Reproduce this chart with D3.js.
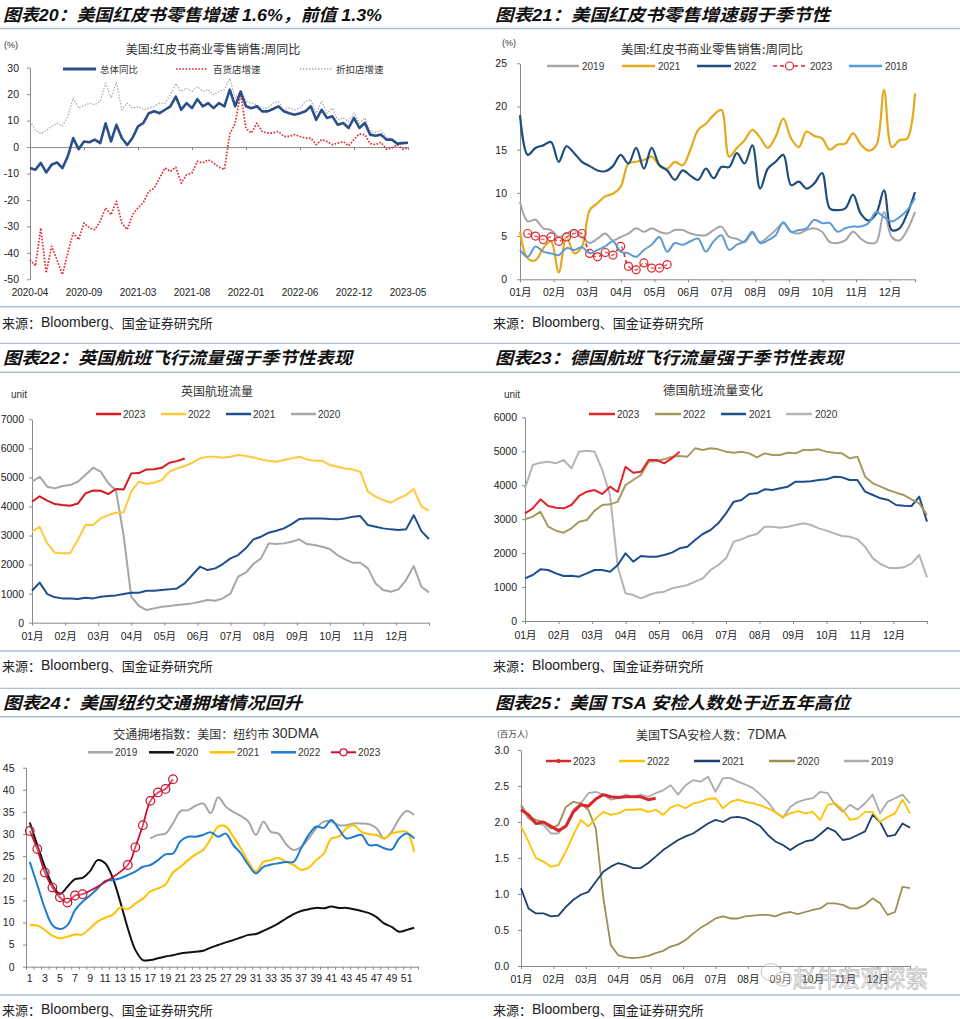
<!DOCTYPE html>
<html><head><meta charset="utf-8">
<script src="https://cdn.jsdelivr.net/npm/d3@7"></script>
<style>
body{margin:0;background:#fff;}
svg{display:block;}
</style></head><body>
<svg id="c" width="960" height="1019"></svg>
<script>
// ================= DATA =================
const months = ['01月','02月','03月','04月','05月','06月','07月','08月','09月','10月','11月','12月'];

// Panel 1 (图表20) - sampled roughly every 2.3 weeks
const p1Ticks = ['2020-04','2020-09','2021-03','2021-08','2022-01','2022-06','2022-12','2023-05'];
const p1YTicks = [-50,-40,-30,-20,-10,0,10,20,30];
const p1Total = [-7.9,-8.6,-6,-9.6,-6.7,-5.8,-8,-3.5,3.4,-0.8,2.1,1.8,2.8,1.5,9,2.1,8.4,3.4,0.8,3.5,7.8,9.1,12.8,13.5,12.8,14.1,15.4,19.1,14.1,16.6,14.7,18.1,15.4,16.6,14.7,16.6,15.4,21.7,15.4,21,15.4,14.7,15.4,13.5,13.5,14.4,15.4,13.5,12.8,12.2,12.8,13.5,15.4,10.3,14.1,11,11.6,8.4,9.1,7.2,11,7.2,9.1,4.7,4.3,4.7,2.8,2.8,1.3,1.5,1.6];
const p1Dept = [-42.6,-45,-30.6,-47.6,-37.5,-42.6,-48.2,-40,-32.5,-35,-28.7,-30.6,-31.2,-28,-23,-25.6,-20.5,-28.7,-31.2,-25.6,-23,-21,-16.8,-15.5,-11.7,-7.9,-9.2,-7.6,-13.6,-10.5,-9.8,-5.4,-6,-4.8,-6,-7.6,-8.5,5,9,20.4,7,5.3,9,5.9,5.3,5.3,5.9,4,4,4.7,4,3.4,3.4,0.9,2.8,2.1,0.9,1.5,2.1,0.5,2.8,5,4.7,1.3,0.9,1.8,-0.8,-0.4,0.9,-0.8,-0.4];
const p1Disc = [9.7,6.5,5,6.3,7.8,9,8,11.6,18.5,14.7,15.6,16.6,16,17.3,24.2,18.5,24.4,14.1,16.6,14.7,15.4,14.1,14.7,15.4,16.6,16.6,19.8,23.9,21,22.3,21,22.9,21,21.7,19.8,21,21.7,26,18.5,21,17.3,16.6,16,14.7,14.7,16.6,17.3,14.1,14.7,14.1,14.7,17.3,17.9,12.8,17.3,12.8,14.7,10.3,11,9.7,12.8,9,11,5.9,5.5,6.3,3.8,3,1.5,1.8,1.5];

// Panel 2 (图表21) - weekly
const p2Y2019 = [9.0,6.7,6.9,5.9,5.7,4.9,5.3,5.7,4.9,4.2,4.7,5.3,4.5,4.9,5.3,5.9,5.5,5.9,5.5,5.3,5.7,5.7,5.3,5.1,5.1,5.7,6.1,4.9,4.7,4.3,5.3,4.3,4.9,5.7,6.5,5.5,5.3,5.7,5.9,5.5,4.3,4.2,4.5,5.5,4.7,4.2,4.3,7.8,4.9,4.5,5.7,7.8];
const p2Y2021 = [5.5,2.4,2.2,3.6,4.4,0.8,4.9,3.0,3.8,8.0,8.8,9.6,9.9,10.7,13.4,13.6,13.8,14.2,13.2,12.8,13.6,13.2,15.0,17.3,18.0,19.0,19.6,14.2,15.2,16.1,17.3,16.4,15.2,16.5,18.6,16.3,15.3,17.1,16.6,16.3,15.0,15.6,15.7,16.9,15.6,14.9,15.5,21.9,15.3,16.1,16.3,21.5];
const p2Y2022 = [19.0,14.4,15.2,15.5,15.9,13.6,15.4,14.6,13.6,13.1,12.6,12.5,13.1,14.4,13.4,15.2,12.8,15.2,13.2,12.6,11.5,12.6,12.0,11.5,12.8,11.7,13.0,13.0,14.6,13.4,15.5,10.5,12.8,13.6,14.4,10.9,11.3,10.5,11.1,12.3,8.2,8.0,8.2,9.8,7.6,6.8,7.6,10.3,5.7,5.9,7.6,10.1];
const p2Y2023 = [null,5.3,5.0,4.6,4.9,4.4,4.9,5.3,5.3,3.0,2.6,3.1,2.8,3.8,1.5,1.1,1.9,1.3,1.3,1.7];
const p2Y2018 = [3.4,2.6,3.8,3.2,3.0,2.8,3.6,3.4,3.7,3.0,3.4,3.8,4.4,3.2,3.0,2.6,3.4,4.0,4.9,3.2,4.2,4.0,4.4,4.7,3.2,4.4,5.1,3.4,4.0,4.4,5.5,4.2,4.5,5.1,6.6,5.5,5.7,5.9,6.9,6.5,6.5,5.5,5.9,6.1,6.1,6.5,7.8,7.2,6.7,7.2,8.0,9.4];

// Panel 3 (图表22) - UK flights, weekly
const p3Y2023 = [4164,4350,4200,4083,4049,4026,4100,4450,4550,4542,4427,4600,4580,5139,5150,5276,5280,5330,5506,5560,5650];
const p3Y2022 = [3131,3300,2730,2409,2386,2386,2845,3360,3360,3590,3705,3785,3797,4508,4852,4772,4817,4909,5196,5310,5391,5506,5655,5712,5712,5678,5712,5770,5735,5689,5620,5574,5540,5597,5655,5712,5620,5574,5574,5425,5368,5310,5276,5196,4508,4336,4221,4129,4278,4393,4600,4000,3850];
const p3Y2021 = [1101,1380,986,872,837,837,814,860,837,895,918,940,986,1032,1032,1101,1101,1124,1147,1181,1353,1640,1927,1812,1870,2019,2214,2328,2558,2868,2959,3097,3166,3246,3395,3567,3590,3590,3590,3567,3556,3590,3647,3670,3360,3303,3246,3212,3189,3212,3700,3150,2880];
const p3Y2020 = [4852,5024,4680,4622,4703,4737,4852,5081,5333,5196,4800,4550,3000,900,580,436,493,551,574,608,631,665,723,780,757,837,1009,1583,1720,2019,2214,2730,2707,2730,2787,2868,2707,2672,2615,2535,2328,2179,2065,2065,1870,1353,1124,1067,1147,1468,1950,1239,1044];

// Panel 4 (图表23) - Germany flights, weekly
const p4Y2023 = [3171,3318,3584,3387,3338,3318,3417,3682,3809,3858,3741,3957,3800,4545,4369,4398,4742,4742,4644,4791,4988];
const p4Y2022 = [2995,3073,3220,2779,2661,2602,2729,2926,2975,3250,3417,3436,3515,4005,4153,4300,4693,4713,4762,4840,4860,4840,5086,5037,5086,5056,4988,4958,4988,4938,4821,4938,4889,4889,4958,4938,5037,5037,5056,4988,4958,4938,4791,4840,4251,4055,3957,3858,3780,3711,3584,3466,3122];
const p4Y2021 = [1257,1355,1522,1502,1404,1325,1335,1306,1404,1502,1502,1453,1649,1993,1748,1915,1895,1895,1944,2013,2140,2189,2386,2563,2680,2877,3171,3515,3564,3741,3760,3878,3858,3908,3957,4104,4104,4114,4153,4173,4251,4232,4153,4153,3809,3711,3613,3564,3417,3397,3387,3662,2926];
const p4Y2020 = [3908,4595,4664,4693,4644,4742,4497,4988,5017,4988,4447,3711,1600,815,766,668,766,835,864,962,1011,1060,1159,1257,1502,1649,1846,2337,2405,2504,2563,2779,2779,2749,2779,2828,2877,2828,2729,2661,2582,2504,2484,2405,2189,1846,1679,1571,1551,1581,1699,1944,1286];

// Panel 5 (图表24) - NYC congestion, weeks 1..52
const p5Weeks = d3.range(1, 53);
const p5Y2019 = [null,null,null,null,null,null,null,null,null,null,null,null,null,null,null,null,29.0,29.8,30.1,32.4,35.2,35.4,36.4,36.9,34.7,38.3,36.2,35.0,34.1,32.8,29.8,32.8,30.5,30.1,27.7,26.4,27.1,29.0,31.3,32.8,32.8,32.0,32.0,32.4,32.4,32.2,31.3,29.0,30.5,33.5,35.2,34.3];
const p5Y2020 = [32.6,27.5,22.6,18.5,16.4,18.1,19.8,20.1,21.6,24.1,23.4,20.1,14.7,8.7,3.8,1.5,1.5,1.9,2.3,2.6,3.0,3.2,3.4,3.6,4.3,4.9,5.5,6.0,6.6,7.2,7.4,8.1,8.9,9.8,10.9,11.9,12.6,13.0,13.3,13.2,13.6,13.3,13.3,13.0,12.6,12.1,11.2,9.8,9.0,7.9,8.3,8.8];
const p5Y2021 = [9.4,9.3,8.3,7.0,6.4,6.8,7.3,7.3,8.7,10.2,11.1,11.7,13.4,13.0,14.3,15.4,17.0,17.7,18.6,21.3,22.6,24.1,25.4,26.4,28.9,31.7,31.7,29.4,26.8,23.7,21.5,23.7,24.1,24.6,23.7,23.0,21.9,22.4,24.1,25.6,29.0,29.4,31.3,32.0,30.5,30.0,29.8,29.0,30.1,30.5,30.5,26.0];
const p5Y2022 = [23.7,18.5,13.2,9.4,8.5,9.4,12.8,14.7,16.1,17.7,19.4,19.6,20.0,20.7,21.5,22.6,23.0,24.1,25.4,25.6,28.4,29.4,29.4,29.8,30.4,29.4,30.1,27.5,25.6,23.0,21.1,22.6,23.1,23.4,23.7,23.7,26.8,29.8,31.7,31.4,33.2,31.1,29.0,29.4,29.8,27.5,27.5,26.8,26.5,29.0,30.1,29.0];
const p5Y2023 = [30.7,26.6,21.3,17.9,15.7,14.5,16.1,16.4,null,null,null,null,null,23.0,27.0,32.0,37.5,39.4,40.2,42.4];

// Panel 6 (图表25) - TSA 7DMA, weekly (million)
const p6Y2023 = [2.17,2.10,1.98,2.0,1.94,1.88,1.94,2.14,2.24,2.22,2.32,2.38,2.35,2.34,2.35,2.35,2.35,2.31,2.33];
const p6Y2022 = [1.94,1.73,1.50,1.45,1.38,1.40,1.59,1.82,2.03,1.94,2.05,2.14,2.10,2.12,2.17,2.17,2.18,2.14,2.17,2.10,2.20,2.24,2.19,2.26,2.28,2.32,2.33,2.19,2.28,2.31,2.28,2.26,2.23,2.19,2.14,2.07,2.12,2.15,2.12,2.14,2.03,2.24,2.26,2.17,2.03,2.05,2.14,2.14,2.0,2.07,2.12,2.31,2.12];
const p6Y2021 = [1.08,0.80,0.73,0.73,0.69,0.70,0.82,0.92,0.99,1.03,1.17,1.31,1.38,1.43,1.40,1.36,1.36,1.43,1.52,1.61,1.68,1.75,1.80,1.84,1.91,1.98,2.03,2.0,2.06,2.07,2.05,2.0,1.94,1.82,1.73,1.68,1.61,1.68,1.73,1.75,1.83,1.92,1.87,1.75,1.77,1.82,1.87,2.10,2.0,1.80,1.82,1.98,1.92];
const p6Y2020 = [2.24,2.07,2.03,2.0,1.91,1.96,2.21,2.28,2.26,2.17,1.91,0.95,0.29,0.15,0.12,0.11,0.12,0.14,0.18,0.21,0.27,0.30,0.36,0.45,0.53,0.59,0.66,0.69,0.66,0.66,0.69,0.70,0.71,0.71,0.69,0.73,0.75,0.72,0.75,0.78,0.80,0.87,0.87,0.85,0.80,0.80,0.85,0.94,0.87,0.71,0.75,1.10,1.08];
const p6Y2019 = [2.21,2.05,1.98,1.96,1.84,1.84,1.96,2.17,2.26,2.40,2.42,2.38,2.31,2.33,2.38,2.35,2.38,2.35,2.40,2.44,2.51,2.38,2.51,2.58,2.56,2.63,2.42,2.61,2.61,2.56,2.52,2.47,2.38,2.28,2.14,2.06,2.21,2.28,2.31,2.33,2.42,2.40,2.24,2.14,2.24,2.17,2.26,2.38,2.12,2.28,2.33,2.38,2.26];

// ================= DRAWING =================
const svg = d3.select('#c');
svg.append('rect').attr('width',960).attr('height',1019).attr('fill','#fff');
const CJK = "'Noto Sans CJK SC',sans-serif";
const LAT = "'Liberation Sans',Arial,'Noto Sans CJK SC',sans-serif";
const SEP = '#a9c1d8';
const AX = '#8a8a8a';
const TXT = '#222';
const plain = d => String(d);

function hline(x1,x2,y,c,w){ svg.append('line').attr('x1',x1).attr('x2',x2).attr('y1',y).attr('y2',y).attr('stroke',c).attr('stroke-width',w); }
function text(t,x,y,o){
  o=o||{};
  return svg.append('text').attr('x',x).attr('y',y).attr('dominant-baseline','central')
    .attr('font-family',o.ff||LAT).attr('font-size',o.fs||10.5).attr('fill',o.fill||TXT)
    .attr('text-anchor',o.anchor||'start').text(t);
}
function title(t,x,y,w){
  text(t,x,y,{fs:17,fill:'#111'}).attr('font-weight','bold').attr('font-style','italic')
    .attr('textLength',w).attr('lengthAdjust','spacingAndGlyphs');
}
function source(x,y){
  const t = svg.append('text').attr('x',x).attr('y',y).attr('dominant-baseline','central').attr('fill','#222').attr('font-size',13);
  t.append('tspan').attr('font-family',CJK).text('来源：');
  t.append('tspan').attr('font-family',LAT).attr('font-size',14).text('Bloomberg');
  t.append('tspan').attr('font-family',CJK).text('、国金证券研究所');
}
function subtitle(parts,cx,y){
  const t = svg.append('text').attr('x',cx).attr('y',y).attr('text-anchor','middle').attr('dominant-baseline','central').attr('fill','#333');
  parts.forEach(p=>t.append('tspan').attr('font-family',p[1]?LAT:CJK).attr('font-size',p[1]?14:12).text(p[0]));
  return t;
}
function yAxis(x0,y,ticks,fmt,gap){
  const ax = d3.axisLeft(y).tickValues(ticks).tickSizeInner(3).tickSizeOuter(0).tickPadding(gap-3).tickFormat(fmt||plain);
  const g = svg.append('g').attr('transform',`translate(${x0},0)`).call(ax)
    .attr('font-family',LAT).attr('font-size',10.5);
  g.select('.domain').attr('stroke',AX);
  g.selectAll('.tick line').attr('stroke',AX);
  g.selectAll('.tick text').attr('fill',TXT);
}
function monthAxis(x0,x1,sp,yPos,labelOff){
  const n=(x1-x0)/sp;
  const xm=d3.scaleLinear().domain([0,n]).range([x0,x1]);
  const ax=d3.axisBottom(xm).tickValues(d3.range(12).concat([n])).tickFormat((d,i)=>i<12?months[i]:'')
    .tickSizeInner(3).tickSizeOuter(0).tickPadding(labelOff-3-3.8);
  const g=svg.append('g').attr('transform',`translate(0,${yPos})`).call(ax).attr('font-family',LAT).attr('font-size',10.5);
  g.select('.domain').attr('stroke',AX);
  g.selectAll('.tick line').attr('stroke',AX);
  g.selectAll('.tick text').attr('fill',TXT);
}
function drawLine(data,x,y,o){
  const pts=data.map((v,i)=>({i:i+(o.offset||0),v})).filter(d=>d.v!=null);
  const ln=d3.line().x(d=>x(d.i)).y(d=>y(d.v)).curve(o.curve||d3.curveLinear);
  svg.append('path').attr('d',ln(pts)).attr('fill','none').attr('stroke',o.color)
    .attr('stroke-width',o.width||2).attr('stroke-dasharray',o.dash||null)
    .attr('stroke-linejoin','round').attr('stroke-linecap',o.cap||'butt');
  if(o.marker){
    svg.append('g').selectAll('circle').data(pts).enter().append('circle')
      .attr('cx',d=>x(d.i)).attr('cy',d=>y(d.v)).attr('r',o.marker)
      .attr('fill',o.mfill||'none').attr('stroke',o.color).attr('stroke-width',1.2);
  }
}
function legend(items,y,fs){
  items.forEach(it=>{
    svg.append('line').attr('x1',it.x1).attr('x2',it.x2).attr('y1',y).attr('y2',y)
      .attr('stroke',it.color).attr('stroke-width',it.w||2.5).attr('stroke-dasharray',it.dash||null);
    if(it.marker) svg.append('circle').attr('cx',(it.x1+it.x2)/2).attr('cy',y).attr('r',it.marker)
      .attr('fill',it.mfill||'#fff').attr('stroke',it.color).attr('stroke-width',1.2);
    text(it.t,it.tx,y,{fs:fs||10,fill:'#333',ff:it.ff||LAT});
  });
}

// ---------- separators & titles ----------
hline(0,960,28.5,SEP,1.6);
hline(0,960,306.8,SEP,1.6);
hline(0,960,343.3,SEP,1.2);
hline(0,960,372.3,SEP,1.6);
hline(0,960,651,SEP,1.6);
hline(0,960,688.3,SEP,1.2);
hline(0,960,716.8,SEP,1.6);
hline(0,960,995,SEP,1.6);

title('图表20：美国红皮书零售增速 1.6%，前值 1.3%',3,15,379);
title('图表21：美国红皮书零售增速弱于季节性',495,15,335);
title('图表22：英国航班飞行流量强于季节性表现',3,358,349);
title('图表23：德国航班飞行流量强于季节性表现',495,358,348);
title('图表24：美国纽约交通拥堵情况回升',3,703,299);
title('图表25：美国 TSA 安检人数处于近五年高位',495,703,355);

source(2,322); source(493,322);
source(2,665); source(493,665);
source(2,1009); source(493,1009);

// ---------- Panel 1 ----------
{
  const x=d3.scaleLinear().domain([0,p1Total.length-1]).range([30,408]);
  const y=d3.scaleLinear().domain([-50,30]).range([279.3,67.7]);
  text('(%)',4,45,{fs:9,fill:'#333'});
  subtitle([['美国:红皮书商业零售销售:周同比']],213,48);
  yAxis(30,y,p1YTicks,plain,11);
  const xa=d3.axisBottom(x).tickValues(d3.range(0,p1Total.length,10)).tickFormat('').tickSizeInner(3).tickSizeOuter(0);
  const g=svg.append('g').attr('transform',`translate(0,${y(0)})`).call(xa);
  g.select('.domain').attr('stroke',AX); g.selectAll('.tick line').attr('stroke',AX);
  p1Ticks.forEach((t,k)=>text(t,x(k*10),292,{fs:10,anchor:'middle'}));
  drawLine(p1Disc,x,y,{color:'#a9a9a9',width:1.3,dash:'1.4,1.6'});
  drawLine(p1Dept,x,y,{color:'#e5262c',width:1.7,dash:'1.6,1.6'});
  drawLine(p1Total,x,y,{color:'#2c4f88',width:2.6});
  legend([
    {x1:63,x2:96,color:'#2c4f88',w:2.8,t:'总体同比',tx:100,ff:CJK},
    {x1:176,x2:208,color:'#e5262c',w:1.7,dash:'1.6,1.6',t:'百货店增速',tx:213,ff:CJK},
    {x1:300,x2:332,color:'#a9a9a9',w:1.3,dash:'1.4,1.6',t:'折扣店增速',tx:336,ff:CJK}
  ],69,9.5);
}

// ---------- Panel 2 ----------
{
  const x=d3.scaleLinear().domain([0,51]).range([520,915]);
  const y=d3.scaleLinear().domain([0,25]).range([279.3,63.3]);
  text('(%)',502,43,{fs:9,fill:'#333'});
  subtitle([['美国:红皮书商业零售销售:周同比']],712,48).selectAll('tspan').attr('font-size',12.5);
  yAxis(520,y,[0,5,10,15,20,25],plain,13);
  monthAxis(520,915,33.6,279.3,12.7);
  const cv=d3.curveCatmullRom.alpha(0.5);
  drawLine(p2Y2019,x,y,{color:'#a5a5a5',width:2,curve:cv});
  drawLine(p2Y2021,x,y,{color:'#e4a91c',width:2.2,curve:cv});
  drawLine(p2Y2022,x,y,{color:'#1f4e7d',width:2.2,curve:cv});
  drawLine(p2Y2023,x,y,{color:'#d9262c',width:1.6,dash:'4,3',curve:cv,marker:4,mfill:'rgba(255,255,255,0.3)'});
  drawLine(p2Y2018,x,y,{color:'#5b9bd5',width:2,curve:cv});
  legend([
    {x1:547,x2:579,color:'#a5a5a5',t:'2019',tx:582},
    {x1:622,x2:655,color:'#e4a91c',t:'2021',tx:658},
    {x1:697,x2:731,color:'#1f4e7d',t:'2022',tx:734},
    {x1:773,x2:806,color:'#d9262c',w:1.6,dash:'4,3',marker:4,t:'2023',tx:810},
    {x1:849,x2:882,color:'#5b9bd5',t:'2018',tx:885}
  ],66,10);
}

// ---------- Panel 3 ----------
{
  const x=d3.scaleLinear().domain([0,52]).range([32,429]);
  const y=d3.scaleLinear().domain([0,7000]).range([622.7,419.3]);
  text('unit',11,394,{fs:10,fill:'#333'});
  subtitle([['英国航班流量']],217,390);
  yAxis(32,y,d3.range(0,7001,1000),plain,8);
  monthAxis(32,429,33.1,622.7,13.3);
  drawLine(p3Y2020,x,y,{color:'#a6a6a6',width:2});
  drawLine(p3Y2021,x,y,{color:'#1f4e8c',width:2});
  drawLine(p3Y2022,x,y,{color:'#ffc83d',width:2});
  drawLine(p3Y2023,x,y,{color:'#d7191c',width:2});
  legend([
    {x1:96,x2:121,color:'#d7191c',t:'2023',tx:123},
    {x1:161,x2:186,color:'#ffc83d',t:'2022',tx:188},
    {x1:226,x2:251,color:'#1f4e8c',t:'2021',tx:253},
    {x1:291,x2:316,color:'#a6a6a6',t:'2020',tx:318}
  ],414,10);
}

// ---------- Panel 4 ----------
{
  const x=d3.scaleLinear().domain([0,52]).range([525,927]);
  const y=d3.scaleLinear().domain([0,6000]).range([621,417.3]);
  text('unit',504,394,{fs:10,fill:'#333'});
  subtitle([['德国航班流量变化']],713,389).selectAll('tspan').attr('font-size',12.5);
  yAxis(525,y,d3.range(0,6001,1000),plain,8);
  monthAxis(525,927,33.5,621,14);
  drawLine(p4Y2020,x,y,{color:'#b4b4b4',width:2});
  drawLine(p4Y2021,x,y,{color:'#1f4e8c',width:2});
  drawLine(p4Y2022,x,y,{color:'#a69b5e',width:2});
  drawLine(p4Y2023,x,y,{color:'#e0262b',width:2});
  legend([
    {x1:589,x2:615,color:'#e0262b',t:'2023',tx:617},
    {x1:655,x2:681,color:'#a69b5e',t:'2022',tx:683},
    {x1:721,x2:746,color:'#1f4e8c',t:'2021',tx:749},
    {x1:786,x2:812,color:'#b4b4b4',t:'2020',tx:815}
  ],414,10);
}

// ---------- Panel 5 ----------
{
  const x=d3.scaleLinear().domain([0.5,52.5]).range([26,418]);
  const y=d3.scaleLinear().domain([0,45]).range([966.7,767.7]);
  subtitle([['交通拥堵指数：美国：纽约市 '],['30DMA',1]],216,733);
  yAxis(26,y,d3.range(0,46,5),plain,11.5);
  const xa=d3.axisBottom(x).tickValues(d3.range(0.5,53,1)).tickFormat('').tickSizeInner(3).tickSizeOuter(0);
  const g=svg.append('g').attr('transform',`translate(0,${y(0)})`).call(xa);
  g.select('.domain').attr('stroke',AX); g.selectAll('.tick line').attr('stroke',AX);
  p5Weeks.filter(w=>w%2===1).forEach(w=>text(String(w),x(w),978,{fs:10.5,anchor:'middle'}));
  const cv=d3.curveCatmullRom.alpha(0.5);
  drawLine(p5Y2019,x,y,{color:'#a6a6a6',width:2,curve:cv,offset:1});
  drawLine(p5Y2020,x,y,{color:'#111111',width:2,curve:cv,offset:1});
  drawLine(p5Y2021,x,y,{color:'#ffc000',width:2,curve:cv,offset:1});
  drawLine(p5Y2022,x,y,{color:'#1f7bcf',width:2,curve:cv,offset:1});
  drawLine(p5Y2023,x,y,{color:'#c8102e',width:1.8,curve:cv,offset:1,marker:4.3,mfill:'rgba(255,255,255,0.25)'});
  legend([
    {x1:88,x2:113,color:'#a6a6a6',t:'2019',tx:115},
    {x1:149,x2:174,color:'#111111',t:'2020',tx:176},
    {x1:210,x2:235,color:'#ffc000',t:'2021',tx:237},
    {x1:271,x2:296,color:'#1f7bcf',t:'2022',tx:298},
    {x1:331,x2:356,color:'#c8102e',w:2,marker:3.5,t:'2023',tx:358}
  ],752.3,10);
}

// ---------- Panel 6 ----------
{
  const x=d3.scaleLinear().domain([0,52]).range([521,910]);
  const y=d3.scaleLinear().domain([0,3]).range([966,750]);
  text('(百万人)',497,733,{fs:8.5,fill:'#333',ff:CJK});
  subtitle([['美国'],['TSA',1],['安检人数：'],['7DMA',1]],711,734);
  yAxis(521,y,[0,0.5,1,1.5,2,2.5,3],d3.format('.1f'),12);
  monthAxis(521,910,32.4,966,13);
  drawLine(p6Y2019,x,y,{color:'#ababab',width:1.8});
  drawLine(p6Y2020,x,y,{color:'#9c8f52',width:1.8});
  drawLine(p6Y2021,x,y,{color:'#1c3f6e',width:1.8});
  drawLine(p6Y2022,x,y,{color:'#ffc000',width:1.8});
  drawLine(p6Y2023,x,y,{color:'#d9262c',width:3});
  legend([
    {x1:546,x2:571,color:'#d9262c',marker:1.5,mfill:'#d9262c',t:'2023',tx:573},
    {x1:619,x2:645,color:'#ffc000',t:'2022',tx:647},
    {x1:694,x2:720,color:'#1c3f6e',t:'2021',tx:722},
    {x1:769,x2:795,color:'#9c8f52',t:'2020',tx:797},
    {x1:844,x2:869,color:'#ababab',t:'2019',tx:871}
  ],761,10);
  // watermark
  const wm=svg.append('g').attr('opacity',0.55);
  wm.append('ellipse').attr('cx',771).attr('cy',972).attr('rx',10).attr('ry',8.5).attr('fill','rgba(255,255,255,0.6)').attr('stroke','#9a9a9a').attr('stroke-width',1);
  wm.append('ellipse').attr('cx',783).attr('cy',979).attr('rx',8.5).attr('ry',7).attr('fill','rgba(255,255,255,0.6)').attr('stroke','#9a9a9a').attr('stroke-width',1);
  wm.append('text').attr('x',793).attr('y',976).attr('dominant-baseline','central').attr('font-family',CJK)
    .attr('font-size',24).attr('fill','rgba(235,235,235,0.7)').attr('stroke','#8a8a8a').attr('stroke-width',0.8)
    .attr('textLength',135).attr('lengthAdjust','spacingAndGlyphs').text('赵伟宏观探索');
}
</script>
</body></html>
